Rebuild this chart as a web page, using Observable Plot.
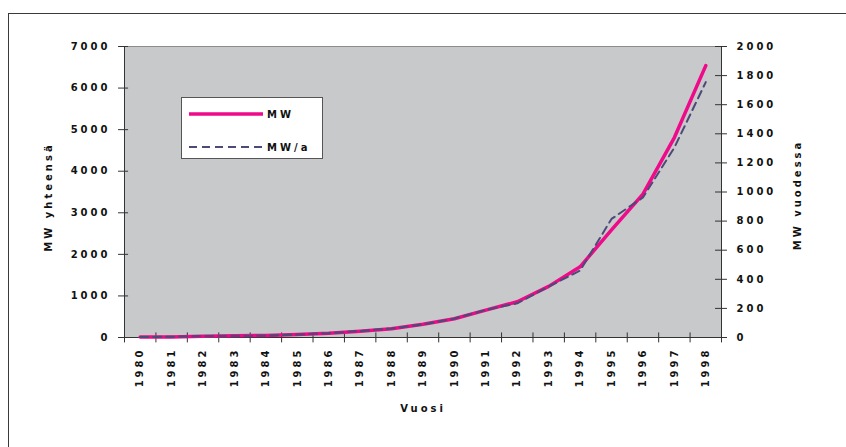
<!DOCTYPE html>
<html><head><meta charset="utf-8">
<script src="https://cdn.jsdelivr.net/npm/d3@7"></script>
<script src="https://cdn.jsdelivr.net/npm/@observablehq/plot@0.6"></script>
<style>
body{margin:0;background:#fff;}
#wrap{position:relative;width:846px;height:447px;overflow:hidden;}
#frame{position:absolute;left:8px;top:13px;width:900px;height:500px;border:1px solid #3a3a3a;pointer-events:none;}
#legend{position:absolute;left:181px;top:97px;width:142px;height:62px;background:#fff;border:1px solid #555;box-sizing:border-box;font:bold 10px "DejaVu Sans";letter-spacing:3px;color:#111;}
#legend .row{position:absolute;left:7px;height:12px;display:flex;align-items:center;}
#legend svg{display:block;margin-right:4px;}
</style>
</head><body>
<div id="wrap"><div id="chart"></div><div id="frame"></div><div id="legend"></div></div>
<script>
const years = [1980,1981,1982,1983,1984,1985,1986,1987,1988,1989,1990,1991,1992,1993,1994,1995,1996,1997,1998];
const mwTotal = [10,15,30,40,50,70,100,150,210,320,450,660,860,1230,1700,2590,3450,4810,6540];
const mwAnnual = [3,5,10,10,12,20,30,45,62,90,130,190,235,350,460,815,962,1305,1755];
const leftTicks = [0,1000,2000,3000,4000,5000,6000,7000];
const rightTicks = [0,200,400,600,800,1000,1200,1400,1600,1800,2000];
const seriesNames = ["MW","MW/a"];
const titleLeft = "MW yhteensä";
const titleRight = "MW vuodessa";
const titleX = "Vuosi";

const pink = "#ee0a88", navy = "#4b4a78";
const k = 7000/2000;
const rows = years.map((y,i)=>({year:y, mw:mwTotal[i], mwa:mwAnnual[i]*k}));
const x0 = years[0]-0.5, x1 = years[years.length-1]+0.5;
const bounds = d3.range(x0, x1+0.01, 1);

const chart = Plot.plot({
  width:846, height:447,
  marginLeft:124, marginRight:125, marginTop:46, marginBottom:110,
  style:{fontFamily:"DejaVu Sans", fontSize:"10px", fontWeight:"bold", letterSpacing:"3px", color:"#111", background:"transparent"},
  x:{type:"linear", domain:[x0,x1]},
  y:{domain:[0,7000]},
  marks:[
    Plot.frame({fill:"#c8c9cb", stroke:null}),
    Plot.ruleY([7000],{stroke:"#8c8c8c"}),
    Plot.ruleX([x0,x1],{stroke:"#333"}),
    Plot.ruleY([0],{stroke:"#333", x1:x0-0.19, x2:x1}),
    Plot.ruleY(leftTicks,{x1:x0-0.19, x2:x0+0.13, stroke:"#333"}),
    Plot.ruleY(rightTicks.map(v=>v*k),{x1:x1-0.19, x2:x1+0.19, stroke:"#333"}),
    Plot.ruleX(bounds,{y1:-130, y2:110, stroke:"#333"}),
    Plot.axisY(leftTicks,{anchor:"left", tickSize:0, tickPadding:14, label:null, tickFormat:d=>String(d)}),
    Plot.axisY(rightTicks.map(v=>v*k),{anchor:"right", tickSize:0, tickPadding:15, label:null, tickFormat:d=>String(Math.round(d/k))}),
    Plot.axisX(years,{anchor:"bottom", tickSize:0, tickRotate:-90, tickPadding:10, label:null, tickFormat:d=>String(d)}),
    Plot.text([titleLeft],{frameAnchor:"left", textAnchor:"middle", dx:-76, dy:5, rotate:-90}),
    Plot.text([titleRight],{frameAnchor:"right", textAnchor:"middle", dx:76, dy:3, rotate:-90}),
    Plot.text([titleX],{frameAnchor:"bottom", textAnchor:"middle", dy:74}),
    Plot.line(rows,{x:"year", y:"mw", stroke:pink, strokeWidth:3.5}),
    Plot.line(rows,{x:"year", y:"mwa", stroke:navy, strokeWidth:2, strokeDasharray:"8,5"})
  ]
});
document.getElementById("chart").appendChild(chart);

const legend = document.getElementById("legend");
const styles = [{stroke:pink, w:3.5, dash:""},{stroke:navy, w:2, dash:"8,5"}];
seriesNames.forEach((name,i)=>{
  const row = document.createElement("div");
  row.className = "row";
  row.style.top = (i===0 ? 10 : 43) + "px";
  row.innerHTML = `<svg width="74" height="12"><line x1="0" x2="74" y1="6" y2="6" stroke="${styles[i].stroke}" stroke-width="${styles[i].w}" stroke-dasharray="${styles[i].dash}"/></svg><span>${name}</span>`;
  legend.appendChild(row);
});
</script>
</body></html>
